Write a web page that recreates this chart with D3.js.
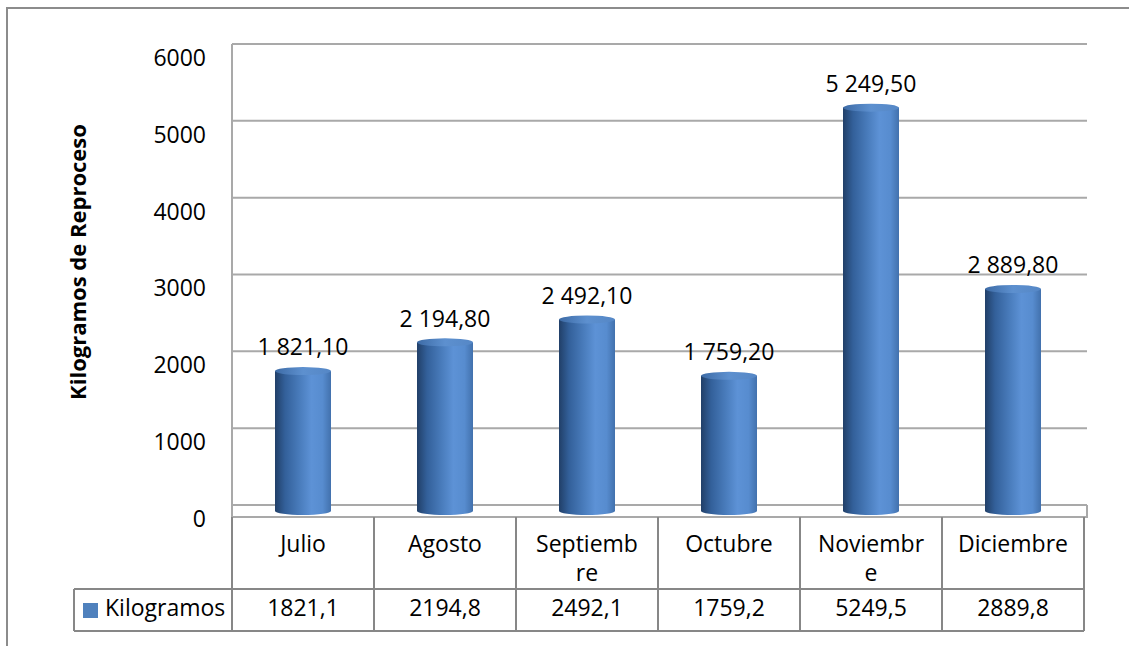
<!DOCTYPE html>
<html>
<head>
<meta charset="utf-8">
<script src="https://cdn.jsdelivr.net/npm/d3@7"></script>
<style>
  body { margin: 0; background: #fff; }
  text { font-family: "Open Sans", sans-serif; fill: #000; }
</style>
</head>
<body>
<script>
var categories = ["Julio", "Agosto", "Septiembre", "Octubre", "Noviembre", "Diciembre"];
var tickLabels = [["Julio"], ["Agosto"], ["Septiemb", "re"], ["Octubre"], ["Noviembr", "e"], ["Diciembre"]];
var values = [1821.1, 2194.8, 2492.1, 1759.2, 5249.5, 2889.8];
var yTicks = [0, 1000, 2000, 3000, 4000, 5000, 6000];
var seriesName = "Kilogramos";
var axisTitle = "Kilogramos de Reproceso";

var width = 1129,
    height = 646;
var fs = "23px";

var es = d3.formatLocale({ decimal: ",", thousands: "\u00a0", grouping: [3], currency: ["", ""] });
var labelFmt = es.format(",.2f");
var cellFmt = es.format(".1f");

var svg = d3.select("body").append("svg")
    .attr("width", width)
    .attr("height", height);

svg.append("rect").attr("width", width).attr("height", height).attr("fill", "#fff");

// outer chart border (only top and left are in view)
svg.append("path")
    .attr("d", "M7," + height + "V8H" + width)
    .attr("fill", "none")
    .attr("stroke", "#8c8c8c")
    .attr("stroke-width", 2);

var left = 232, right = 1087, tableRight = 1084;
var depth = 12;

// back wall scale, front (labels) and mid-depth (bars)
var y = d3.scaleLinear().domain([0, 6000]).range([505, 44]);
var yFront = y.copy().range([505 + 14, 44 + 14]);
var yMid = y.copy().range([505 + 6, 44 + 6]);

var x = d3.scaleBand().domain(categories).range([left, tableRight]).padding(0);

var grid = "#a9a9a9";

// gridlines on the back wall
svg.selectAll(".grid")
    .data(yTicks)
    .enter().append("line")
    .attr("x1", left).attr("x2", right)
    .attr("y1", function(d) { return y(d); })
    .attr("y2", function(d) { return y(d); })
    .attr("stroke", grid)
    .attr("stroke-width", 2);

// wall side + floor
svg.append("line").attr("x1", left).attr("x2", left).attr("y1", y(6000)).attr("y2", y(0) + depth)
    .attr("stroke", grid).attr("stroke-width", 2);
svg.append("path")
    .attr("d", "M" + left + "," + (y(0) + depth) + "H" + right + "V" + y(0))
    .attr("fill", "none").attr("stroke", grid).attr("stroke-width", 2);

// y axis labels
var yAxis = d3.axisLeft(yFront)
    .tickValues(yTicks)
    .tickSize(0)
    .tickPadding(0)
    .tickFormat(function(d) { return d; });

var ga = svg.append("g")
    .attr("transform", "translate(206,0)")
    .call(yAxis);
ga.select(".domain").remove();
ga.selectAll("text")
    .style("font-family", "'Open Sans', sans-serif")
    .style("font-size", fs)
    .attr("fill", "#000");

svg.append("text")
    .attr("transform", "translate(86,262) rotate(-90)")
    .attr("text-anchor", "middle")
    .style("font-size", "22px")
    .style("font-weight", "bold")
    .text(axisTitle);

// cylinder gradients
var defs = svg.append("defs");
var body = defs.append("linearGradient").attr("id", "cyl");
[["0%", "#213f68"], ["18%", "#33609a"], ["45%", "#4a7dbd"], ["65%", "#5d92d6"], ["85%", "#578ccf"], ["100%", "#4271ad"]]
    .forEach(function(s) { body.append("stop").attr("offset", s[0]).attr("stop-color", s[1]); });
var cap = defs.append("linearGradient").attr("id", "cap");
[["0%", "#3d6ba6"], ["50%", "#5d90cf"], ["100%", "#5587c6"]]
    .forEach(function(s) { cap.append("stop").attr("offset", s[0]).attr("stop-color", s[1]); });

var bw = 56, ry = 4;
var data = categories.map(function(c, i) { return { c: c, v: values[i] }; });

var bars = svg.selectAll(".bar")
    .data(data)
    .enter().append("g")
    .attr("class", "bar");

bars.append("ellipse")
    .attr("cx", function(d) { return x(d.c) + x.bandwidth() / 2; })
    .attr("cy", yMid(0))
    .attr("rx", bw / 2).attr("ry", ry)
    .attr("fill", "url(#cyl)");
bars.append("rect")
    .attr("x", function(d) { return x(d.c) + x.bandwidth() / 2 - bw / 2; })
    .attr("y", function(d) { return yMid(d.v); })
    .attr("width", bw)
    .attr("height", function(d) { return yMid(0) - yMid(d.v); })
    .attr("fill", "url(#cyl)");
bars.append("ellipse")
    .attr("cx", function(d) { return x(d.c) + x.bandwidth() / 2; })
    .attr("cy", function(d) { return yMid(d.v); })
    .attr("rx", bw / 2).attr("ry", ry)
    .attr("fill", "url(#cap)");

// data labels
svg.selectAll(".lbl")
    .data(data)
    .enter().append("text")
    .attr("x", function(d) { return x(d.c) + x.bandwidth() / 2; })
    .attr("y", function(d) { return yMid(d.v) - 22; })
    .attr("text-anchor", "middle")
    .attr("dominant-baseline", "middle")
    .style("font-size", fs)
    .text(function(d) { return labelFmt(d.v); });

// data table
var tTop = y(0) + depth, tMid = 589, tBot = 631, keyLeft = 74;
var tbl = svg.append("g").attr("stroke", "#878787").attr("stroke-width", 2).attr("fill", "none");
tbl.append("path").attr("d", "M" + keyLeft + "," + tMid + "H" + tableRight + "M" + keyLeft + "," + tBot + "H" + tableRight +
    "M" + keyLeft + "," + tMid + "V" + tBot);
tbl.selectAll(".vl")
    .data(categories.map(function(c) { return x(c); }).concat([tableRight]))
    .enter().append("line")
    .attr("x1", function(d) { return d; }).attr("x2", function(d) { return d; })
    .attr("y1", tTop).attr("y2", tBot);

svg.selectAll(".cat")
    .data(categories)
    .enter().append("text")
    .attr("x", function(d) { return x(d) + x.bandwidth() / 2; })
    .attr("text-anchor", "middle")
    .style("font-size", fs)
    .each(function(d, i) {
        var t = d3.select(this);
        tickLabels[i].forEach(function(line, j) {
            t.append("tspan")
                .attr("x", x(d) + x.bandwidth() / 2)
                .attr("y", 546 + j * 29)
                .attr("dominant-baseline", "middle")
                .text(line);
        });
    });

svg.selectAll(".cell")
    .data(data)
    .enter().append("text")
    .attr("x", function(d) { return x(d.c) + x.bandwidth() / 2; })
    .attr("y", (tMid + tBot) / 2)
    .attr("text-anchor", "middle")
    .attr("dominant-baseline", "middle")
    .style("font-size", fs)
    .text(function(d) { return cellFmt(d.v); });

svg.append("rect")
    .attr("x", 83).attr("y", 603)
    .attr("width", 15).attr("height", 15)
    .attr("fill", "#4f81bd");
svg.append("text")
    .attr("x", 105).attr("y", (tMid + tBot) / 2)
    .attr("dominant-baseline", "middle")
    .style("font-size", fs)
    .text(seriesName);
</script>
</body>
</html>
